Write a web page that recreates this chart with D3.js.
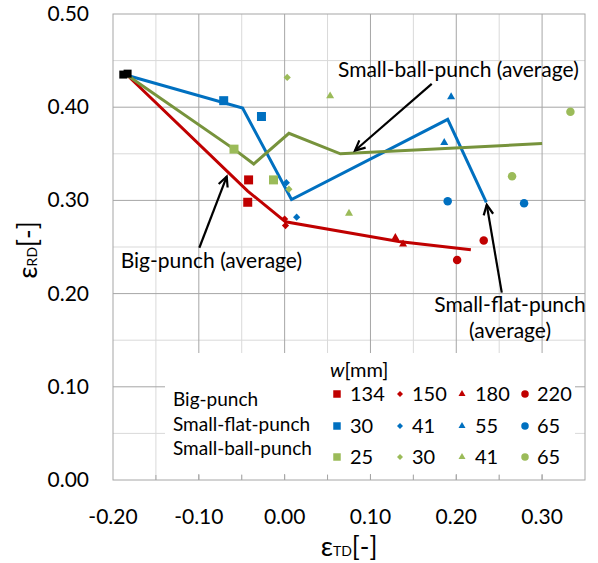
<html>
<head>
<script src="https://d3js.org/d3.v7.min.js"></script>
<style>
  body { margin: 0; background: #fff; }
  text { font-family: Lato, "Open Sans", sans-serif; fill: #000; }
</style>
</head>
<body>
<div id="chart_area"></div>
<script>
// data
const punches = ["Big-punch", "Small-flat-punch", "Small-ball-punch"];
const bigW = [134, 150, 180, 220];
const flatW = [30, 41, 55, 65];
const ballW = [25, 30, 41, 65];

// two specimens per width, eps_TD / eps_RD
const bigTD = [[-0.042, -0.043], [0.000, 0.001], [0.129, 0.138], [0.232, 0.201]];
const bigRD = [[0.322, 0.298], [0.280, 0.273], [0.260, 0.253], [0.257, 0.236]];
const flatTD = [[-0.071, -0.027], [0.002, 0.014], [0.194, 0.186], [0.190, 0.279]];
const flatRD = [[0.407, 0.390], [0.319, 0.282], [0.411, 0.362], [0.299, 0.297]];
const ballTD = [[-0.059, -0.013], [0.003, 0.005], [0.053, 0.075], [0.333, 0.265]];
const ballRD = [[0.355, 0.322], [0.432, 0.312], [0.412, 0.286], [0.395, 0.326]];

// average lines
const bigAvgTD = [-0.183, -0.043, 0.001, 0.133, 0.217];
const bigAvgRD = [0.434, 0.310, 0.277, 0.256, 0.247];
const flatAvgTD = [-0.183, -0.049, 0.008, 0.190, 0.235];
const flatAvgRD = [0.434, 0.399, 0.301, 0.387, 0.298];
const ballAvgTD = [-0.183, -0.059, -0.036, 0.005, 0.065, 0.300];
const ballAvgRD = [0.434, 0.355, 0.339, 0.372, 0.350, 0.361];

// undeformed start
const startTD = [-0.188, -0.183];
const startRD = [0.435, 0.436];

const xTicks = [-0.2, -0.1, 0.0, 0.1, 0.2, 0.3];
const yTicks = [0.0, 0.1, 0.2, 0.3, 0.4, 0.5];

let width = 598, height = 563;
let svg = d3.select("#chart_area").append("svg")
    .attr("width", width)
    .attr("height", height);

let x = d3.scaleLinear().domain([-0.2, 0.35]).range([113, 585]);
let y = d3.scaleLinear().domain([0, 0.5]).range([480, 14]);

let red = "#c00000", blue = "#0070c0", lgreen = "#9bbb59", dgreen = "#77933c";
let colors = [red, blue, lgreen];
let fs = "21px";
let fmt = d => d3.format(".2f")(d).replace("−", "-");

// gridlines: 0.05 minor light, 0.1 major darker
let minorX = d3.range(-0.15, 0.35, 0.1);
let majorX = d3.range(-0.1, 0.31, 0.1);
let minorY = d3.range(0.05, 0.5, 0.1);
let majorY = d3.range(0.1, 0.45, 0.1);

svg.append("g").selectAll("line").data(minorX).join("line")
    .attr("x1", d => x(d)).attr("x2", d => x(d)).attr("y1", y(0)).attr("y2", y(0.5))
    .attr("stroke", "#d9d9d9");
svg.append("g").selectAll("line").data(minorY).join("line")
    .attr("y1", d => y(d)).attr("y2", d => y(d)).attr("x1", x(-0.2)).attr("x2", x(0.35))
    .attr("stroke", "#d9d9d9");
svg.append("g").selectAll("line").data(majorX).join("line")
    .attr("x1", d => x(d)).attr("x2", d => x(d)).attr("y1", y(0)).attr("y2", y(0.5))
    .attr("stroke", "#a6a6a6");
svg.append("g").selectAll("line").data(majorY).join("line")
    .attr("y1", d => y(d)).attr("y2", d => y(d)).attr("x1", x(-0.2)).attr("x2", x(0.35))
    .attr("stroke", "#a6a6a6");

// legend box hides the grid
svg.append("rect")
    .attr("x", 165).attr("y", 353).attr("width", 410).attr("height", 121)
    .attr("fill", "#fff");

// frame
svg.append("rect")
    .attr("x", x(-0.2)).attr("y", y(0.5))
    .attr("width", x(0.35) - x(-0.2)).attr("height", y(0) - y(0.5))
    .attr("fill", "none").attr("stroke", "#a6a6a6");

// tick marks (inside)
let tickX = d3.range(-0.15, 0.35, 0.05);
svg.append("g").selectAll("line").data(tickX).join("line")
    .attr("x1", d => x(d)).attr("x2", d => x(d)).attr("y1", y(0)).attr("y2", y(0) - 5)
    .attr("stroke", "#a6a6a6");

// tick labels
svg.append("g").selectAll("text").data(xTicks).join("text")
    .attr("x", d => x(d)).attr("y", 524)
    .attr("text-anchor", "middle").style("font-size", fs)
    .text(fmt);
svg.append("g").selectAll("text").data(yTicks).join("text")
    .attr("x", 89).attr("y", d => y(d) + 7)
    .attr("text-anchor", "end").style("font-size", fs)
    .text(fmt);

// axis titles
let xt = svg.append("text").attr("x", 349).attr("y", 556).attr("text-anchor", "middle");
xt.append("tspan").style("font-size", "27px").text("ε");
xt.append("tspan").style("font-size", "14px").text("TD");
xt.append("tspan").style("font-size", "26px").text("[-]");
let yt = svg.append("text").attr("transform", "translate(37,250) rotate(-90)").attr("text-anchor", "middle");
yt.append("tspan").style("font-size", "27px").text("ε");
yt.append("tspan").style("font-size", "14px").text("RD");
yt.append("tspan").style("font-size", "26px").text("[-]");

// average lines
let line = d3.line().x(d => x(d[0])).y(d => y(d[1]));
let avgLines = [
    [d3.zip(bigAvgTD, bigAvgRD), red],
    [d3.zip(flatAvgTD, flatAvgRD), blue],
    [d3.zip(ballAvgTD, ballAvgRD), dgreen]
];
avgLines.forEach(l => {
    svg.append("path").datum(l[0])
        .attr("d", line)
        .attr("fill", "none")
        .attr("stroke", l[1])
        .attr("stroke-width", 3)
        .attr("stroke-linejoin", "miter");
});

// markers
let shapes = ["square", "diamond", "triangle", "circle"];
function symPath(shape, s) {
    if (shape == "square") return d3.symbol(d3.symbolSquare, s * s)();
    if (shape == "diamond") return d3.symbol(d3.symbolSquare, s * s * 0.5)();
    if (shape == "triangle") return d3.symbol(d3.symbolTriangle, s * s * 0.433)();
    return d3.symbol(d3.symbolCircle, Math.PI * s * s / 4)();
}
let markSize = { square: 9, diamond: 7.2, triangle: 8, circle: 8.5 };

let groups = [[bigTD, bigRD], [flatTD, flatRD], [ballTD, ballRD]];
groups.forEach((g, gi) => {
    g[0].forEach((xs, si) => {
        let pts = d3.zip(xs, g[1][si]);
        let shape = shapes[si];
        svg.append("g").selectAll("path").data(pts).join("path")
            .attr("d", symPath(shape, markSize[shape]))
            .attr("transform", d => "translate(" + x(d[0]) + "," + y(d[1]) + ")" + (shape == "diamond" ? " rotate(45)" : ""))
            .attr("fill", colors[gi]);
    });
});

// start point
svg.append("g").selectAll("path").data(d3.zip(startTD, startRD)).join("path")
    .attr("d", symPath("square", 8))
    .attr("transform", d => "translate(" + x(d[0]) + "," + y(d[1]) + ")")
    .attr("fill", "#000");

// annotations with arrows
function arrow(x1, y1, x2, y2) {
    let px1 = x(x1), py1 = y(y1), px2 = x(x2), py2 = y(y2);
    let a = Math.atan2(py2 - py1, px2 - px1);
    let h = 11, spread = 0.45;
    svg.append("line")
        .attr("x1", px1).attr("y1", py1).attr("x2", px2).attr("y2", py2)
        .attr("stroke", "#000").attr("stroke-width", 2.2);
    svg.append("path")
        .attr("d", "M" + (px2 - h * Math.cos(a - spread)) + "," + (py2 - h * Math.sin(a - spread)) +
            "L" + px2 + "," + py2 +
            "L" + (px2 - h * Math.cos(a + spread)) + "," + (py2 - h * Math.sin(a + spread)))
        .attr("fill", "none").attr("stroke", "#000").attr("stroke-width", 2.2);
}
arrow(0.1714, 0.425, 0.082, 0.3535);
arrow(-0.0994, 0.2492, -0.0675, 0.3256);
arrow(0.253, 0.201, 0.2355, 0.2953);

svg.append("text").attr("x", x(0.0622)).attr("y", y(0.4325))
    .style("font-size", fs).text("Small-ball-punch (average)");
svg.append("text").attr("x", x(-0.191)).attr("y", y(0.2278))
    .style("font-size", fs).text("Big-punch (average)");
svg.append("text").attr("x", x(0.2627)).attr("y", y(0.1806))
    .attr("text-anchor", "middle").style("font-size", fs).text("Small-flat-punch");
svg.append("text").attr("x", x(0.2627)).attr("y", y(0.1520))
    .attr("text-anchor", "middle").style("font-size", fs).text("(average)");

// legend
let wl = svg.append("text").attr("x", 330).attr("y", 377).style("font-size", "20px");
wl.append("tspan").style("font-style", "italic").text("w");
wl.append("tspan").text("[mm]");

let rowY = [394, 426, 457];
let labelY = [406, 431, 455];
let colMark = [337, 400, 462, 525];
let colText = [350, 412, 475, 537];
let widthsAll = [bigW, flatW, ballW];
let legSize = { square: 7.5, diamond: 6, triangle: 7, circle: 7.5 };

punches.forEach((p, pi) => {
    svg.append("text").attr("x", 173).attr("y", labelY[pi])
        .style("font-size", "19px").text(p);
    widthsAll[pi].forEach((w, wi) => {
        let shape = shapes[wi];
        svg.append("path")
            .attr("d", symPath(shape, legSize[shape]))
            .attr("transform", "translate(" + colMark[wi] + "," + rowY[pi] + ")" + (shape == "diamond" ? " rotate(45)" : ""))
            .attr("fill", colors[pi]);
        svg.append("text").attr("x", colText[wi]).attr("y", rowY[pi] + 7)
            .style("font-size", "20px").text(w);
    });
});
</script>
</body>
</html>
